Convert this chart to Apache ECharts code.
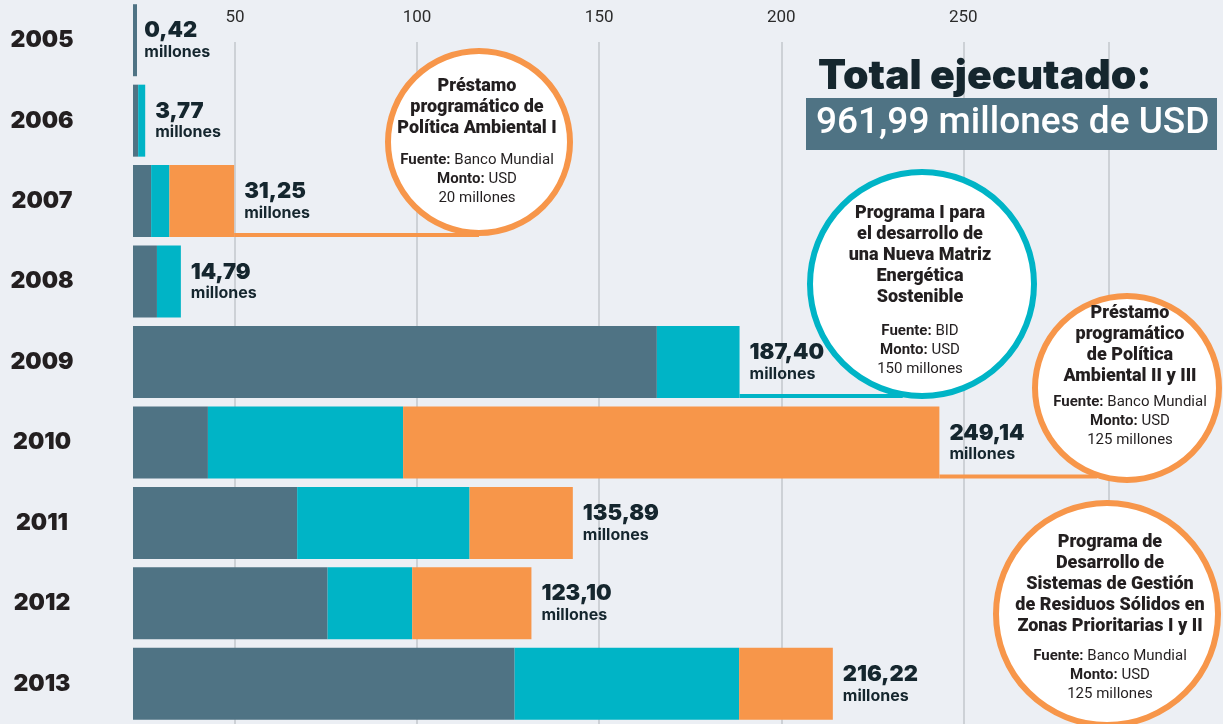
<!DOCTYPE html>
<html>
<head>
<meta charset="utf-8">
<script src="https://cdn.jsdelivr.net/npm/echarts@6/dist/echarts.min.js"></script>
<style>
  html, body { margin: 0; padding: 0; background: #eceff4; }
  #chart { width: 1223px; height: 724px; }
</style>
</head>
<body>
<div id="chart"></div>
<script>
// Desembolsos anuales (millones de USD) por fuente de financiamiento
const years = ['2005', '2006', '2007', '2008', '2009', '2010', '2011', '2012', '2013'];
const otros = [0.42, 1.60, 5.60, 7.40, 161.85, 23.15, 50.72, 60.13, 117.91];
const bid = [0, 2.17, 5.65, 7.39, 25.55, 60.30, 53.27, 26.13, 69.36];
const bancoMundial = [0, 0, 20.00, 0, 0, 165.69, 31.90, 36.84, 28.95];
const totales = [0.42, 3.77, 31.25, 14.79, 187.40, 249.14, 135.89, 123.10, 216.22];
const tickValues = [50, 100, 150, 200, 250];

const COLORS = { otros: '#4f7384', bid: '#00b4c6', bm: '#f7964a' };
const BAR_W = 72;
const HEAVY = 'Inter';
const fmt = v => v.toFixed(2).replace('.', ',');

const chart = echarts.init(document.getElementById('chart'), null, { renderer: 'canvas' });

const option = {
  backgroundColor: '#eceff4',
  animation: false,
  grid: [
    { left: 133, right: 119, top: -6, bottom: -9, containLabel: false },
    { left: 235, right: 114, top: 42, bottom: 0, containLabel: false }
  ],
  xAxis: [
    { type: 'value', gridIndex: 0, min: 0, max: 300, show: false },
    {
      type: 'value', gridIndex: 1, position: 'top',
      min: tickValues[0], max: 290, interval: 50,
      axisLine: { show: false }, axisTick: { show: false },
      axisLabel: {
        margin: 16, fontSize: 17, color: '#2b2b2b', fontFamily: 'Roboto',
        formatter: v => tickValues.indexOf(v) >= 0 ? String(v) : ''
      },
      splitLine: { show: true, lineStyle: { color: '#cdd1d6', width: 2 } }
    }
  ],
  yAxis: [
    {
      type: 'category', gridIndex: 0, data: years, inverse: true,
      axisLine: { show: false }, axisTick: { show: false }, splitLine: { show: false },
      axisLabel: {
        align: 'center', margin: 91, fontSize: 23, fontWeight: 900,
        fontFamily: HEAVY, color: '#231f20'
      }
    },
    { type: 'value', gridIndex: 1, show: false, min: 0, max: 1 }
  ],
  series: [
    {
      name: 'Total', type: 'bar', xAxisIndex: 0, yAxisIndex: 0,
      data: totales, barWidth: BAR_W, barGap: '-100%', z: 1, silent: true,
      itemStyle: { color: 'rgba(0,0,0,0)' },
      label: {
        show: true, position: 'right', distance: 10,
        formatter: p => '{v|' + fmt(p.value) + '}\n{m|millones}',
        rich: {
          v: { fontSize: 22, fontWeight: 900, fontFamily: HEAVY, color: '#15262e', lineHeight: 24 },
          m: { fontSize: 16, fontWeight: 700, fontFamily: HEAVY, color: '#15262e', lineHeight: 19 }
        }
      }
    },
    {
      name: 'Otros', type: 'bar', stack: 'total', xAxisIndex: 0, yAxisIndex: 0,
      data: otros, barWidth: BAR_W, barMinHeight: 4, z: 3,
      itemStyle: { color: COLORS.otros }
    },
    {
      name: 'BID', type: 'bar', stack: 'total', xAxisIndex: 0, yAxisIndex: 0,
      data: bid, barWidth: BAR_W, z: 3,
      itemStyle: { color: COLORS.bid }
    },
    {
      name: 'Banco Mundial', type: 'bar', stack: 'total', xAxisIndex: 0, yAxisIndex: 0,
      data: bancoMundial, barWidth: BAR_W, z: 3,
      itemStyle: { color: COLORS.bm }
    }
  ]
};

chart.setOption(option);

// Callouts: circles with program details, joined to the bar they describe
const TITLE_FONT = 'Roboto';
const circles = [];
function callout(cx, cy, r, color, titleTop, titleLines, detailTop, details, textX) {
  circles.push({ cx: cx, cy: cy, r: r });
  const rich = {
    t: { fontSize: 18, fontWeight: 900, fontFamily: TITLE_FONT, fill: '#231f20', lineHeight: 21 },
    b: { fontSize: 15, fontWeight: 'bold', fontFamily: TITLE_FONT, fill: '#231f20', lineHeight: 19 },
    r: { fontSize: 15, fontWeight: 'normal', fontFamily: TITLE_FONT, fill: '#231f20', lineHeight: 19 }
  };
  const tx = textX == null ? cx : textX;
  return [
    { type: 'circle', shape: { cx: cx, cy: cy, r: r }, z: 20,
      style: { fill: '#ffffff', stroke: color, lineWidth: 6 } },
    { type: 'text', x: tx, y: titleTop, z: 21,
      style: { text: titleLines.map(l => '{t|' + l + '}').join('\n'), rich: rich,
               align: 'center', verticalAlign: 'top' } },
    { type: 'text', x: tx, y: detailTop, z: 21,
      style: { text: details.join('\n'), rich: rich, align: 'center', verticalAlign: 'top' } }
  ];
}

// Horizontal leader line from the bar end (along its bottom edge) to the circle outline
function connector(yearIdx, circleIdx, color) {
  const c = circles[circleIdx];
  const p = chart.convertToPixel({ seriesIndex: 0 }, [totales[yearIdx], yearIdx]);
  const y = p[1] + BAR_W / 2 - 2;
  const dy = y - c.cy;
  const rr = c.r + 2;
  const endX = Math.abs(dy) < rr ? c.cx - Math.sqrt(rr * rr - dy * dy) + 2 : c.cx;
  return { type: 'line', z: 15, shape: { x1: p[0], y1: y, x2: endX, y2: y },
           style: { stroke: color, lineWidth: 4 } };
}

const circleGraphics = [
  ...callout(479, 142, 91, COLORS.bm, 76,
    ['Préstamo', 'programático de', 'Política Ambiental I'], 151,
    ['{b|Fuente:}{r| Banco Mundial}', '{b|Monto:}{r| USD}', '{r|20 millones}'], 477),
  ...callout(922, 284, 112, COLORS.bid, 203,
    ['Programa I para', 'el desarrollo de', 'una Nueva Matriz', 'Energética', 'Sostenible'], 322,
    ['{b|Fuente:}{r| BID}', '{b|Monto:}{r| USD}', '{r|150 millones}'], 920),
  ...callout(1127, 388, 92, COLORS.bm, 303,
    ['Préstamo', 'programático', 'de Política', 'Ambiental II y III'], 393,
    ['{b|Fuente:}{r| Banco Mundial}', '{b|Monto:}{r| USD}', '{r|125 millones}'], 1130),
  ...callout(1107, 614, 111, COLORS.bm, 532,
    ['Programa de', 'Desarrollo de', 'Sistemas de Gestión', 'de Residuos Sólidos en', 'Zonas Prioritarias I y II'], 647,
    ['{b|Fuente:}{r| Banco Mundial}', '{b|Monto:}{r| USD}', '{r|125 millones}'], 1110)
];

const graphics = [
  connector(2, 0, COLORS.bm),
  connector(4, 1, COLORS.bid),
  connector(5, 2, COLORS.bm),
  ...circleGraphics,
  // Headline total
  { type: 'text', x: 818, y: 56, z: 30,
    style: { text: 'Total ejecutado:', fontSize: 41, fontWeight: 900, fontFamily: HEAVY,
             fill: '#15262e', align: 'left', verticalAlign: 'top' } },
  { type: 'rect', z: 30, shape: { x: 806, y: 98, width: 411, height: 52 },
    style: { fill: '#4f7384' } },
  { type: 'text', x: 816, y: 124, z: 31,
    style: { text: '961,99 millones de USD', fontSize: 37, fontWeight: 500, fontFamily: 'Roboto',
             fill: '#ffffff', align: 'left', verticalAlign: 'middle' } }
];

chart.setOption({ graphic: graphics });
</script>
</body>
</html>
